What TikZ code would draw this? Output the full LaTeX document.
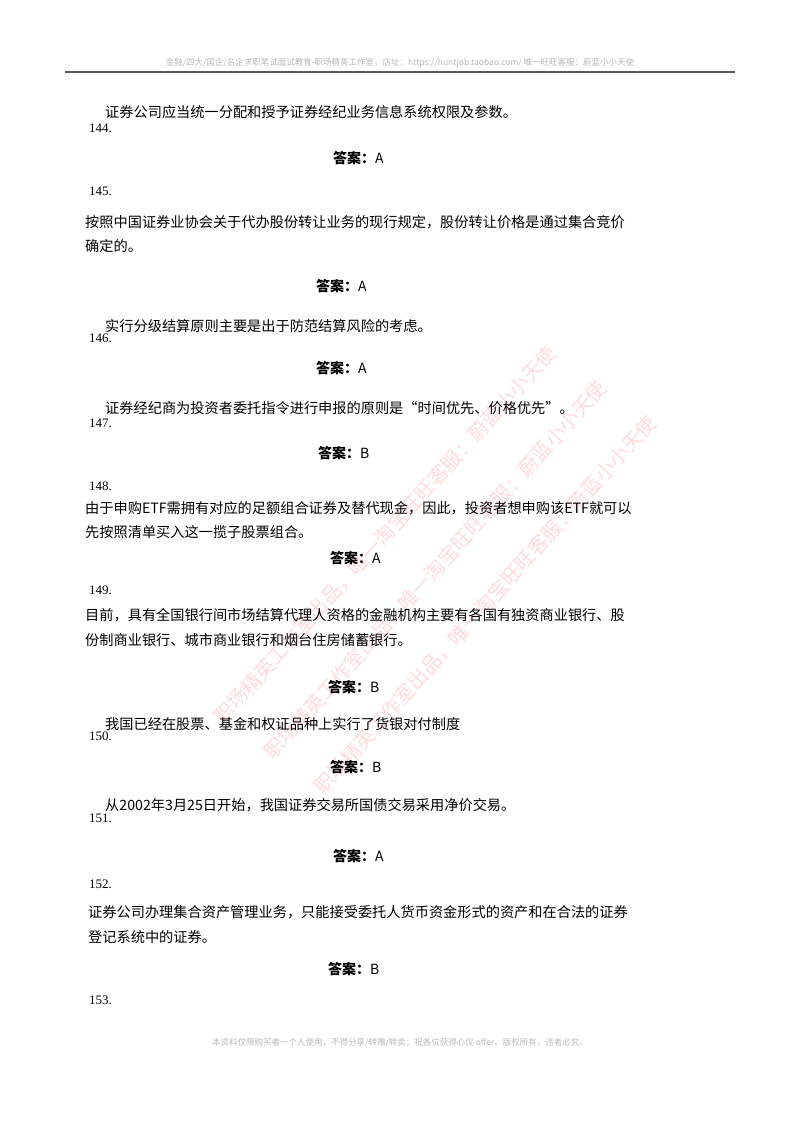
\documentclass[tikz,border=0pt]{standalone}
\usepackage{fontspec}
\setmainfont{Liberation Serif}
\newfontfamily\cjk{Noto Sans CJK SC}
\newfontfamily\cjkl{Noto Sans CJK SC Light}
\begin{document}
\begin{tikzpicture}[x=1pt,y=-1pt,
  body/.style={anchor=west,inner sep=0pt,font=\cjk\fontsize{14.2}{17}\selectfont},
  num/.style={anchor=west,inner sep=0pt,font=\fontsize{13}{15}\selectfont},
  ans/.style={anchor=west,inner sep=0pt,font=\cjk\fontsize{14}{17}\selectfont},
  wm/.style={inner sep=0pt,rotate=48,text=red!70!white,opacity=0.2,font=\cjk\fontsize{20}{22}\selectfont},
  small/.style={inner sep=0pt,text=gray!55,font=\cjk\fontsize{8.5}{10}\selectfont}]
\useasboundingbox[fill=white] (0,0) rectangle (800,1131);
% watermark
\node[wm] (w1) at (385,535) {职场精英工作室出品，唯一淘宝旺旺客服：蔚蓝小小天使};
\node[wm] (w2) at (435,570) {职场精英工作室出品，唯一淘宝旺旺客服：蔚蓝小小天使};
\node[wm] (w3) at (485,605) {职场精英工作室出品，唯一淘宝旺旺客服：蔚蓝小小天使};
% header / footer
\node[small] (hd) at (400,63) {金融/四大/国企/名企求职笔试面试教育-职场精英工作室，店址：https://huntjob.taobao.com/ 唯一旺旺客服：蔚蓝小小天使};
\draw[line width=1.3pt,gray!70!black] (65,72) -- (735,72);
\node[small] (ft) at (400,1043) {本资料仅限购买者一个人使用，不得分享/转赠/转卖；祝各位获得心仪 offer。版权所有，违者必究。};
% content
\node[body] (t144) at (105,112) {证券公司应当统一分配和授予证券经纪业务信息系统权限及参数。};
\node[num] (n144) at (89,128) {144.};
\node[ans] (a144) at (333,158) {\textbf{答案：}A};
\node[num] (n145) at (89,191) {145.};
\node[body] (t145) at (85,222) {按照中国证券业协会关于代办股份转让业务的现行规定，股份转让价格是通过集合竞价};
\node[body] (t145b) at (85,246) {确定的。};
\node[ans] (a145) at (316,286) {\textbf{答案：}A};
\node[body] (t146) at (105,326) {实行分级结算原则主要是出于防范结算风险的考虑。};
\node[num] (n146) at (89,338) {146.};
\node[ans] (a146) at (316,368) {\textbf{答案：}A};
\node[body] (t147) at (105,408) {证券经纪商为投资者委托指令进行申报的原则是“时间优先、价格优先”。};
\node[num] (n147) at (89,423) {147.};
\node[ans] (a147) at (318,453) {\textbf{答案：}B};
\node[num] (n148) at (89,486) {148.};
\node[body] (t148) at (85,508) {由于申购ETF需拥有对应的足额组合证券及替代现金，因此，投资者想申购该ETF就可以};
\node[body] (t148b) at (85,532) {先按照清单买入这一揽子股票组合。};
\node[ans] (a148) at (330,558) {\textbf{答案：}A};
\node[num] (n149) at (89,590) {149.};
\node[body] (t149) at (85,615) {目前，具有全国银行间市场结算代理人资格的金融机构主要有各国有独资商业银行、股};
\node[body] (t149b) at (85,640) {份制商业银行、城市商业银行和烟台住房储蓄银行。};
\node[ans] (a149) at (328,687) {\textbf{答案：}B};
\node[body] (t150) at (105,724) {我国已经在股票、基金和权证品种上实行了货银对付制度};
\node[num] (n150) at (89,736) {150.};
\node[ans] (a150) at (330,767) {\textbf{答案：}B};
\node[body] (t151) at (105,805) {从2002年3月25日开始，我国证券交易所国债交易采用净价交易。};
\node[num] (n151) at (89,818) {151.};
\node[ans] (a151) at (333,856) {\textbf{答案：}A};
\node[num] (n152) at (89,884) {152.};
\node[body] (t152) at (88,912) {证券公司办理集合资产管理业务，只能接受委托人货币资金形式的资产和在合法的证券};
\node[body] (t152b) at (88,937) {登记系统中的证券。};
\node[ans] (a152) at (328,969) {\textbf{答案：}B};
\node[num] (n153) at (89,1000) {153.};
\end{tikzpicture}
\end{document}
